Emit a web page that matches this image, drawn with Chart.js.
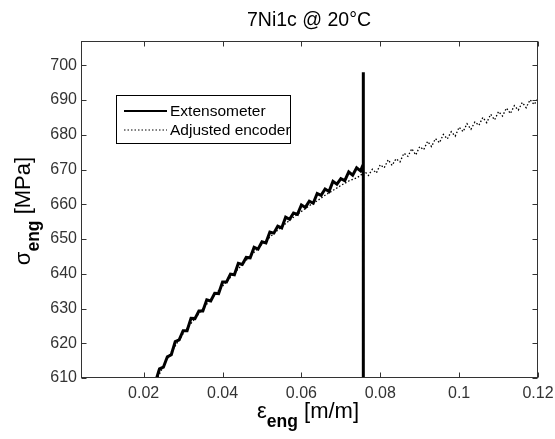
<!DOCTYPE html>
<html>
<head>
<meta charset="utf-8">
<script src="https://cdn.jsdelivr.net/npm/chart.js@4.4.0/dist/chart.umd.min.js"></script>
<style>
html,body{margin:0;padding:0;background:#fff}
#wrap{width:555px;height:439px}
</style>
</head>
<body>
<div id="wrap"><canvas id="grafica" width="555" height="439"></canvas></div>
<script>
const titulo = '7Ni1c @ 20°C';
const xTicks = [0.02, 0.04, 0.06, 0.08, 0.1, 0.12];
const yTicks = [610, 620, 630, 640, 650, 660, 670, 680, 690, 700];

// Extensometer (curva + salto vertical al final)
const extX = [0.0228, 0.0233, 0.024, 0.025, 0.026, 0.027, 0.028, 0.029, 0.030, 0.031, 0.032, 0.033, 0.034, 0.035, 0.036, 0.037, 0.038, 0.039, 0.040,
  0.041, 0.042, 0.043, 0.044, 0.045, 0.046, 0.047, 0.048, 0.049, 0.050, 0.051, 0.052, 0.053, 0.054, 0.055, 0.056, 0.057, 0.058, 0.059, 0.060,
  0.061, 0.062, 0.063, 0.064, 0.065, 0.066, 0.067, 0.068, 0.069, 0.070, 0.071, 0.072, 0.073, 0.074, 0.075, 0.0757, 0.0757, 0.0757];
const extY = [608.5, 610.0, 612.6, 613.1, 616.1, 616.7, 620.5, 621.0, 623.6, 623.6, 627.2, 627.1, 629.3, 629.3, 632.5, 632.2, 634.4, 634.3, 637.6,
  637.6, 639.9, 639.7, 643.0, 642.7, 644.7, 644.6, 647.6, 647.1, 649.2, 648.9, 652.0, 651.7, 653.7, 653.2, 656.3, 655.7, 657.5, 657.1, 659.8,
  659.1, 660.9, 660.3, 663.1, 662.6, 664.4, 663.7, 666.6, 665.8, 667.4, 666.8, 669.3, 668.4, 670.5, 669.6, 671.5, 698.0, 600.0];

// Adjusted encoder
const encX = [0.0228, 0.026, 0.030, 0.034, 0.038, 0.042, 0.046, 0.050, 0.054, 0.058, 0.062, 0.064, 0.066, 0.068, 0.070, 0.072, 0.074, 0.075,
  0.076, 0.077, 0.078, 0.079, 0.080, 0.081, 0.082, 0.083, 0.084, 0.085, 0.086, 0.087, 0.088, 0.089, 0.090, 0.091, 0.092, 0.093, 0.094, 0.095,
  0.096, 0.097, 0.098, 0.099, 0.100, 0.101, 0.102, 0.103, 0.104, 0.105, 0.106, 0.107, 0.108, 0.109, 0.110, 0.111, 0.112, 0.113, 0.114, 0.115,
  0.116, 0.117, 0.118, 0.119, 0.120];
const encY = [608.5, 615.6, 622.8, 628.6, 633.9, 639.0, 643.9, 648.5, 652.6, 656.3, 659.6, 661.0, 662.6, 664.0, 665.4, 666.7, 667.6, 668.3,
  669.5, 668.3, 670.1, 669.0, 671.4, 670.5, 672.8, 671.2, 673.1, 672.2, 674.7, 673.8, 676.0, 674.2, 676.6, 675.7, 678.1, 676.6, 678.9, 677.7,
  680.1, 678.8, 680.9, 679.6, 682.2, 680.9, 683.2, 681.6, 683.7, 682.7, 685.0, 683.5, 685.9, 684.3, 686.7, 685.4, 687.7, 686.1, 688.4, 687.1,
  689.3, 687.8, 690.1, 688.7, 690.4];

const FUENTE = "'Liberation Sans', Arial, sans-serif";

function texto(ctx, partes, x, y, ang) {
  // partes: [texto, tamaño, negrita, desplazamiento]
  let total = 0;
  partes.forEach(p => { ctx.font = (p[2] ? 'bold ' : '') + p[1] + 'px ' + FUENTE; total += ctx.measureText(p[0]).width; });
  ctx.save();
  ctx.translate(x, y);
  ctx.rotate(ang || 0);
  let cx = -total / 2;
  ctx.textBaseline = 'alphabetic';
  ctx.textAlign = 'left';
  ctx.fillStyle = '#000';
  partes.forEach(p => {
    ctx.font = (p[2] ? 'bold ' : '') + p[1] + 'px ' + FUENTE;
    ctx.fillText(p[0], cx, p[3]);
    cx += ctx.measureText(p[0]).width;
  });
  ctx.restore();
}

const marco = {
  id: 'marco',
  afterDraw(chart) {
    const ctx = chart.ctx, a = chart.chartArea, sx = chart.scales.x, sy = chart.scales.y;
    ctx.save();
    ctx.strokeStyle = '#333';
    ctx.lineWidth = 1;
    const L = Math.round(a.left) + 0.5, R = Math.round(a.right) - 0.5, T = Math.round(a.top) + 0.5, B = Math.round(a.bottom) - 0.5;
    ctx.strokeRect(L, T, R - L, B - T);
    ctx.beginPath();
    xTicks.forEach(v => {
      const px = Math.round(sx.getPixelForValue(v)) + 0.5;
      ctx.moveTo(px, B); ctx.lineTo(px, B - 5);
      ctx.moveTo(px, T); ctx.lineTo(px, T + 5);
    });
    yTicks.forEach(v => {
      const py = Math.round(sy.getPixelForValue(v)) + 0.5;
      ctx.moveTo(L, py); ctx.lineTo(L + 5, py);
      ctx.moveTo(R, py); ctx.lineTo(R - 5, py);
    });
    ctx.stroke();

    // leyenda
    ctx.fillStyle = '#fff';
    ctx.fillRect(116.5, 95.5, 174, 48);
    ctx.strokeStyle = '#000';
    ctx.strokeRect(116.5, 95.5, 174, 48);
    ctx.font = '15.5px ' + FUENTE;
    ctx.fillStyle = '#000';
    ctx.textBaseline = 'middle';
    const ds = chart.data.datasets;
    [[111, ds[0], 2], [130, ds[1], 1]].forEach(([yy, d, w]) => {
      ctx.beginPath();
      ctx.lineWidth = w;
      ctx.setLineDash(d.borderDash || []);
      ctx.strokeStyle = '#000';
      ctx.moveTo(124, yy); ctx.lineTo(167, yy);
      ctx.stroke();
      ctx.setLineDash([]);
      ctx.fillText(d.label, 170, yy + 1);
    });
    ctx.restore();

    texto(ctx, [[titulo, 19.5, false, 0]], 309, 26, 0);
    texto(ctx, [['\u03B5', 22, false, 0], ['eng', 17.5, true, 9], [' [m/m]', 22, false, 0]], 308, 418, 0);
    texto(ctx, [['\u03C3', 22, false, 0], ['eng', 17.5, true, 9], [' [MPa]', 22, false, 0]], 30, 211, -Math.PI / 2);
  }
};

new Chart(document.getElementById('grafica'), {
  type: 'line',
  data: {
    datasets: [
      { label: 'Extensometer', data: extX.map((x, i) => ({ x, y: extY[i] })), borderColor: '#000', borderWidth: 3,
        pointRadius: 0, tension: 0, clip: 0, order: 1 },
      { label: 'Adjusted encoder', data: encX.map((x, i) => ({ x, y: encY[i] })), borderColor: '#000', borderWidth: 1.3,
        borderDash: [1.5, 2], pointRadius: 0, tension: 0, clip: 0, order: 2 }
    ]
  },
  options: {
    responsive: false,
    animation: false,
    devicePixelRatio: 1,
    layout: { padding: { top: 41, right: 17, left: 0, bottom: 0 } },
    plugins: { legend: { display: false }, tooltip: { enabled: false }, title: { display: false } },
    scales: {
      x: {
        type: 'linear', min: 0.0041, max: 0.12,
        afterBuildTicks: s => { s.ticks = xTicks.map(v => ({ value: v })); },
        afterFit: s => { s.height = 61; s.paddingLeft = 0; s.paddingRight = 0; },
        grid: { display: false, drawTicks: false },
        border: { display: false },
        ticks: { font: { family: FUENTE, size: 16 }, color: '#333', padding: 6, maxRotation: 0, callback: v => String(v) }
      },
      y: {
        type: 'linear', min: 610, max: 707,
        afterBuildTicks: s => { s.ticks = yTicks.map(v => ({ value: v })); },
        afterFit: s => { s.width = 81; s.paddingTop = 0; s.paddingBottom = 0; },
        grid: { display: false, drawTicks: false },
        border: { display: false },
        ticks: { font: { family: FUENTE, size: 16 }, color: '#333', padding: 4, callback: v => String(v) }
      }
    }
  },
  plugins: [marco]
});
</script>
</body>
</html>
